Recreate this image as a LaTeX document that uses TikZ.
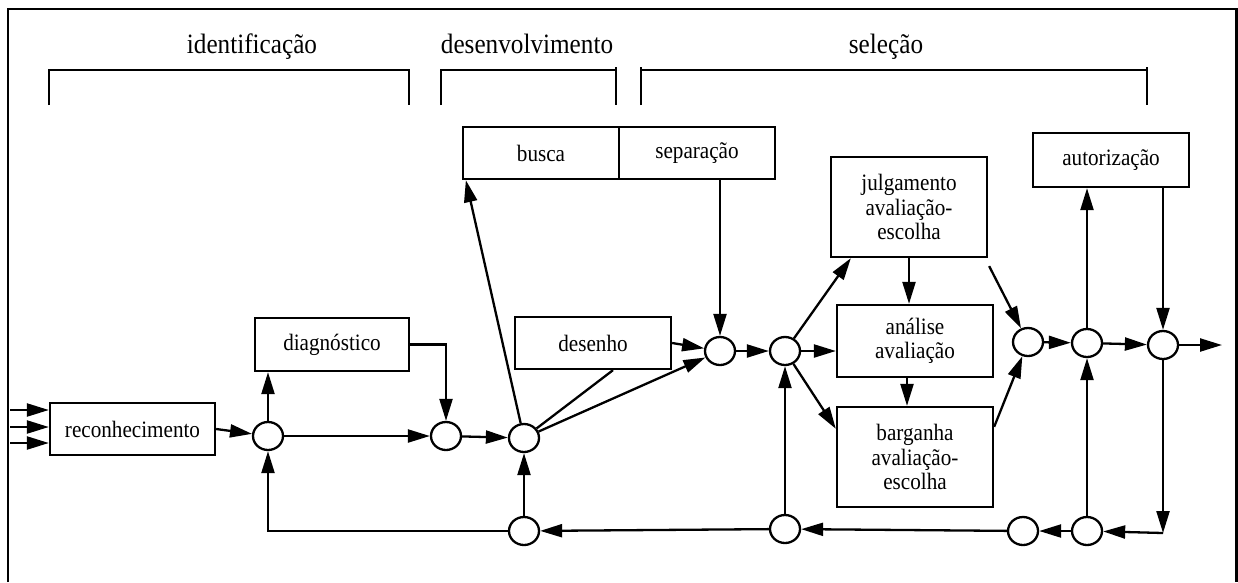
\documentclass[tikz,border=0pt]{standalone}
\usepackage{fontspec}
\setmainfont{Liberation Serif}[FakeStretch=0.9]
\usetikzlibrary{arrows.meta,shapes.geometric}
\newcommand{\dboxfont}{\fontsize{23.5}{24.5}\selectfont}
\newcommand{\dtitlefont}{\fontsize{28}{30}\selectfont}
\begin{document}
\begin{tikzpicture}[x=1pt,y=-1pt,line width=2.3pt,
  box/.style={draw,line width=2.3pt,inner sep=0pt,align=center,font=\dboxfont},
  junction/.style={draw,ellipse,line width=2.3pt,minimum width=30pt,minimum height=28pt,inner sep=0pt},
  arr/.style={-{Triangle[length=22pt,width=13pt]}},
  ttl/.style={font=\dtitlefont,anchor=base,inner sep=0pt}]
\useasboundingbox (0,0) rectangle (1238,582);
% frame
\draw[line width=2.7pt] (8,582) -- (8,9) -- (1236.5,9) -- (1236.5,582);
% titles
\node[ttl] (t1) at (252,53) {identificação};
\node[ttl] (t2) at (527,53) {desenvolvimento};
\node[ttl] (t3) at (886,53) {seleção};
% brackets
\draw (49,105) -- (49,70) -- (409,70) -- (409,105);
\draw (441,105) -- (441,70) -- (616,70) -- (616,105);
\draw (616,67) -- (616,70);
\draw (641,105) -- (641,67);
\draw (641,70) -- (1147,70);
\draw (1147,67) -- (1147,105);
% boxes
\node[box,minimum width=165pt,minimum height=52pt] (reco) at (132.5,429) {reconhecimento};
\node[box,minimum width=154pt,minimum height=53pt] (diag) at (332,344.5) {diagnóstico};
\node[box,minimum width=156pt,minimum height=52pt] (busca) at (541,153) {busca};
\node[box,minimum width=156pt,minimum height=52pt] (sep) at (697,153) {separação};
\node[box,minimum width=156pt,minimum height=52pt] (des) at (593,343) {desenho};
\node[box,minimum width=156pt,minimum height=100pt] (julg) at (909,207) {julgamento\\avaliação-\\escolha};
\node[box,minimum width=156pt,minimum height=72pt] (anal) at (915,341) {análise\\avaliação};
\node[box,minimum width=156pt,minimum height=100pt] (barg) at (915,457) {barganha\\avaliação-\\escolha};
\node[box,minimum width=156pt,minimum height=54pt] (auth) at (1111,160) {autorização};
% junctions
\node[junction] (c1) at (268,436) {};
\node[junction] (c2) at (446,436) {};
\node[junction] (c3) at (524,438) {};
\node[junction] (c4) at (720,351) {};
\node[junction] (c5) at (785,351) {};
\node[junction] (c6) at (1028,342) {};
\node[junction] (c7) at (1087,343) {};
\node[junction] (c8) at (1163,345) {};
\node[junction] (b1) at (524,531) {};
\node[junction] (b2) at (785,529) {};
\node[junction] (b3) at (1023,531) {};
\node[junction] (b4) at (1087,531) {};
% free ends
\coordinate (in1) at (10,410);
\coordinate (in2) at (10,427);
\coordinate (in3) at (10,443);
\coordinate (out) at (1222,345);
\coordinate (corner) at (1163,533);
% connectors
\draw[arr] (in1) -- (in1 -| reco.west);
\draw[arr] (in2) -- (in2 -| reco.west);
\draw[arr] (in3) -- (in3 -| reco.west);
\draw[arr] (reco.east) -- (c1);
\draw[arr] (c1) -- (c1 |- diag.south);
\draw[arr] (c1) -- (c2);
\draw[arr] (diag.east) -| (c2);
\draw[arr] (c2) -- (c3);
\draw[arr] (c3) -- ([xshift=4pt]busca.south west);
\draw (c3) -- ([xshift=20pt]des.south);
\draw[arr] (c3) -- (c4);
\draw[arr] (des.east) -- (c4);
\draw[arr] (c4 |- sep.south) -- (c4);
\draw[arr] (c4) -- (c5);
\draw[arr] (c5) -- ([xshift=21pt]julg.south west);
\draw[arr] (c5) -- (c5 -| anal.west);
\draw[arr] (c5) -- ([yshift=-23pt]barg.north west);
\draw[arr] (julg.south) -- (julg.south |- anal.north);
\draw[arr] ([xshift=-8pt]anal.south) -- ([xshift=-8pt]anal.south |- barg.north);
\draw[arr] ([shift={(1pt,-8pt)}]julg.south east) -- (c6);
\draw[arr] ([yshift=-21pt]barg.north east) -- (c6);
\draw[arr] (c6) -- (c7);
\draw[arr] (c7) -- (c7 |- auth.south);
\draw[arr] (c8 |- auth.south) -- (c8);
\draw[arr] (c7) -- (c8);
\draw[arr] (c8) -- (out);
\draw[arr] (c8) -- (corner);
\draw[arr] (corner) -- (b4);
\draw[arr] (b4) -- (b3);
\draw[arr] (b4) -- (c7);
\draw[arr] (b3) -- (b2);
\draw[arr] (b2) -- (c5);
\draw[arr] (b2) -- (b1);
\draw[arr] (b1) -- (c3);
\draw[arr] (b1) -| (c1);
\end{tikzpicture}
\end{document}
